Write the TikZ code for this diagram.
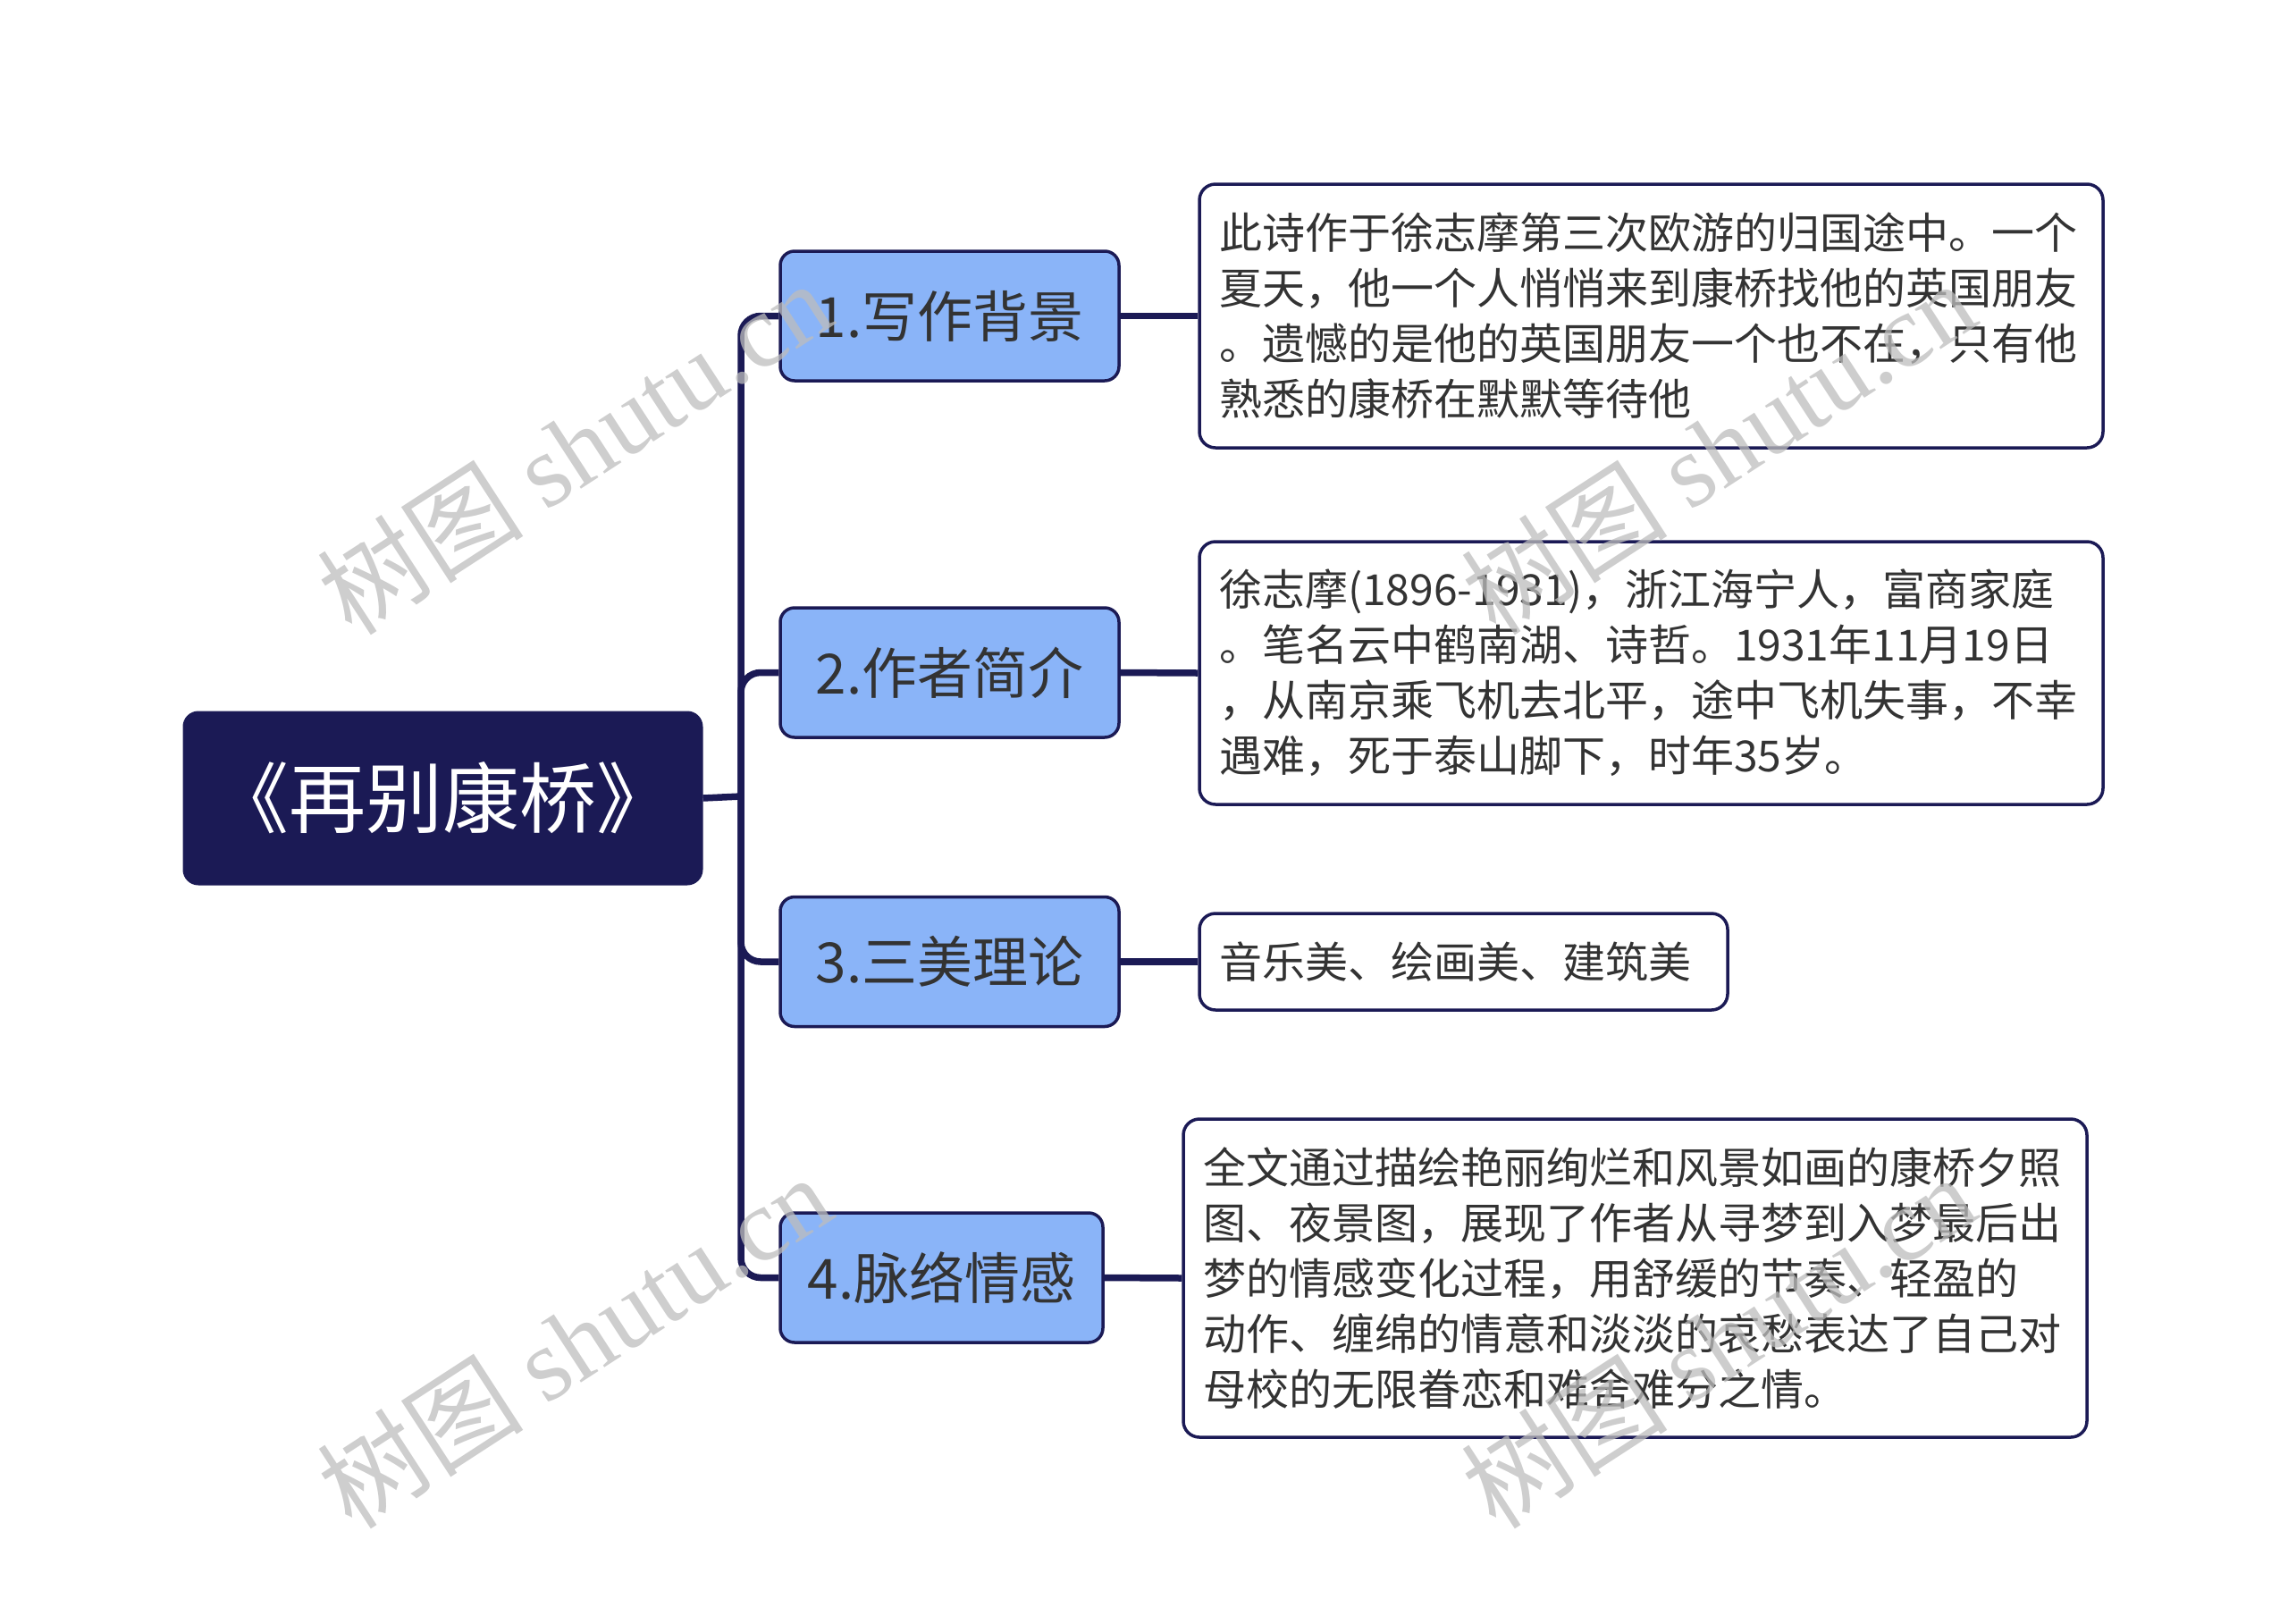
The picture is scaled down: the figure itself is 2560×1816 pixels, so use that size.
\documentclass[tikz,border=0pt]{standalone}
\usepackage{fontspec}
\setmainfont{Noto Sans CJK SC}
\newfontfamily\wmlatin{Liberation Serif}
\usetikzlibrary{calc}
\definecolor{navy}{HTML}{1B1A55}
\definecolor{lblue}{HTML}{8AB4F8}
\definecolor{txt}{HTML}{333333}
\definecolor{wmgray}{HTML}{BDBDBD}
\tikzset{
  rootbox/.style={draw=navy, fill=navy, line width=3pt, rounded corners=16pt, text=white,
    font=\fontsize{86}{90}\selectfont, minimum width=579pt, minimum height=192pt, inner sep=0pt},
  branchbox/.style={draw=navy, fill=lblue, line width=3.5pt, rounded corners=16pt, text=txt,
    font=\fontsize{62}{70}\selectfont, minimum height=145pt, inner sep=0pt},
  leafbox/.style={draw=navy, fill=white, line width=3.5pt, rounded corners=18pt, text=txt,
    font=\fontsize{48}{62}\selectfont, align=left, inner xsep=22pt, inner ysep=0pt},
  conn/.style={draw=navy, line width=7.5pt},
  wm/.style={text=wmgray, opacity=0.75, font=\fontsize{116}{120}\selectfont, inner sep=0pt}
}
\begin{document}
\begin{tikzpicture}[x=1pt,y=-1pt]
\useasboundingbox (0,0) rectangle (2560,1816);

% root
\node[rootbox] (root) at (495.5,893) {《再别康桥》};

% branches
\node[branchbox, minimum width=379pt] (b1) at (1062.5,353.5) {1.写作背景};
\node[branchbox, minimum width=379pt] (b2) at (1062.5,752.5) {2.作者简介};
\node[branchbox, minimum width=379pt] (b3) at (1062.5,1076) {3.三美理论};
\node[branchbox, minimum width=361pt] (b4) at (1053.5,1429.5) {4.脉络情感};

% leaves
\node[leafbox, text width=967pt, minimum height=295pt] (l1) at (1847.5,353.5)
  {此诗作于徐志摩第三次欧游的归国途中。一个\\夏天，他一个人悄悄来到康桥找他的英国朋友\\。遗憾的是他的英国朋友一个也不在，只有他\\熟悉的康桥在默默等待他};
\node[leafbox, text width=967pt, minimum height=294pt] (l2) at (1847.5,753)
  {徐志摩(1896-1931)，浙江海宁人，富商家庭\\。笔名云中鹤南湖、诗哲。1931年11月19日\\，从南京乘飞机去北平，途中飞机失事，不幸\\遇难，死于泰山脚下，时年35岁。};
\node[leafbox, text width=547pt, minimum height=108pt] (l3) at (1637.5,1076)
  {音乐美、绘画美、建筑美};
\node[leafbox, text width=967pt, minimum height=356pt] (l4) at (1829.5,1430)
  {全文通过描绘艳丽绚烂和风景如画的康桥夕照\\图、夜景图，展现了作者从寻梦到入梦最后出\\梦的情感变化过程，用舒缓的节奏、轻盈的\\动作、缠绵的情意和淡淡的哀愁表达了自己对\\母校的无限眷恋和难舍难分之情。};

% connectors
\coordinate (trunk) at (829,891);
\draw[conn] (root.east) -- (trunk);
\foreach \b in {b1,b2,b3,b4} {
  \draw[conn, rounded corners=22pt] (trunk) |- (\b.west);
}
\draw[conn] (b1.east) -- (l1.west);
\draw[conn] (b2.east) -- (l2.west);
\draw[conn] (b3.east) -- (l3.west);
\draw[conn] (b4.east) -- (l4.west);

% watermarks
\node[wm, rotate=33] (wm1) at (642,500) {树图 {\wmlatin shutu.cn}};
\node[wm, rotate=33] (wm2) at (642,1500) {树图 {\wmlatin shutu.cn}};
\node[wm, rotate=33] (wm3) at (1922,500) {树图 {\wmlatin shutu.cn}};
\node[wm, rotate=33] (wm4) at (1922,1500) {树图 {\wmlatin shutu.cn}};
\end{tikzpicture}
\end{document}
